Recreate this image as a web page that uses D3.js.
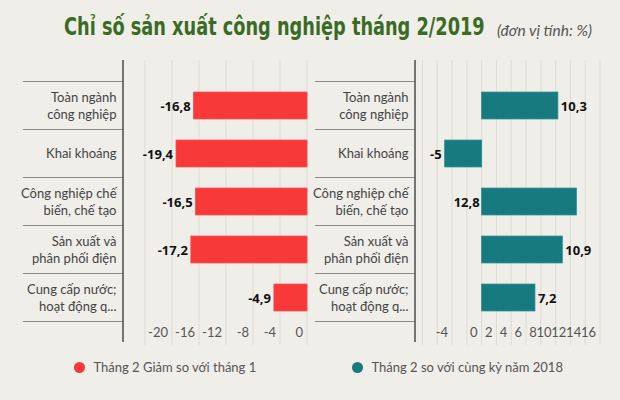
<!DOCTYPE html>
<html>
<head>
<meta charset="utf-8">
<script src="https://cdn.jsdelivr.net/npm/d3@7"></script>
<style>
  html, body { margin: 0; padding: 0; background: #f0eee9; }
  text { font-family: Lato, "Open Sans", sans-serif; }
</style>
</head>
<body>
<div id="chart"></div>
<script>
// Data
const categories = [
  ["Toàn ngành", "công nghiệp"],
  ["Khai khoáng"],
  ["Công nghiệp chế", "biến, chế tạo"],
  ["Sản xuất và", "phân phối điện"],
  ["Cung cấp nước;", "hoạt động q..."]
];
const valuesMonth = [-16.8, -19.4, -16.5, -17.2, -4.9];   // Tháng 2 so với tháng 1
const valuesYear = [10.3, -5, 12.8, 10.9, 7.2];          // so với cùng kỳ 2018
const leftGrid = [-24, -20, -16, -12, -8, -4, 0];
const leftTicks = [-20, -16, -12, -8, -4, 0];
const rightGrid = [-8, -6, -4, -2, 0, 2, 4, 6, 8, 10, 12, 14, 16];
const rightTicks = [-4, 0, 2, 4, 6, 8, 10, 12, 14, 16];
const legendLabels = ["Tháng 2 Giảm so với tháng 1", "Tháng 2 so với cùng kỳ năm 2018"];

const W = 620, H = 400;
const red = "#f8393a";
const teal = "#177a7f";

const svg = d3.select("#chart").append("svg")
  .attr("width", W)
  .attr("height", H);

svg.append("rect").attr("width", W).attr("height", H).attr("fill", "#f0eee9");

// Title: condensed look, squeezed horizontally with a transform
const titleG = svg.append("g");
const title = titleG.append("text")
  .attr("x", 0).attr("y", 0)
  .style("font-family", "'Liberation Sans Narrow', 'DejaVu Sans Condensed', sans-serif")
  .style("font-weight", "bold")
  .style("font-size", "25px")
  .attr("fill", "#3a6b24")
  .text("Chỉ số sản xuất công nghiệp tháng 2/2019");
const tLen = title.node().getComputedTextLength();
titleG.attr("transform", `translate(64,35) scale(${(421 / tLen).toFixed(4)},1)`);

const sub = svg.append("text")
  .attr("x", 497).attr("y", 36)
  .style("font-style", "italic")
  .style("font-size", "13px")
  .attr("fill", "#555")
  .text("(đơn vị tính: %)");
const sLen = sub.node().getComputedTextLength();
sub.style("font-size", (13 * 95 / sLen).toFixed(2) + "px");

// shared row scale
const idx = categories.map((d, i) => i);
const y = d3.scaleBand()
  .domain(idx)
  .range([81.5, 321.5])
  .paddingInner(0.44)
  .paddingOuter(0.22);

// one panel
function panel(opts) {
  const g = svg.append("g");
  const x = d3.scaleLinear().domain(opts.domain).range(opts.range);

  // gridlines
  g.selectAll(".grid").data(opts.grid).enter().append("line")
    .attr("x1", d => x(d)).attr("x2", d => x(d))
    .attr("y1", 60).attr("y2", 345)
    .attr("stroke", "#dedbd4").attr("stroke-width", 1);

  // row separators
  const seps = d3.range(categories.length + 1).map(i => y.range()[0] + i * y.step());
  g.selectAll(".sep").data(seps).enter().append("line")
    .attr("x1", opts.labelLeft).attr("x2", opts.axisX)
    .attr("y1", d => d).attr("y2", d => d)
    .attr("stroke", "#8a8a8a").attr("stroke-width", 1.2);

  // axis line
  g.append("line")
    .attr("x1", opts.axisX).attr("x2", opts.axisX)
    .attr("y1", 60).attr("y2", 342)
    .attr("stroke", "#555").attr("stroke-width", 1.6);

  // row labels
  categories.forEach((lines, i) => {
    const cy = y(i) + y.bandwidth() / 2;
    const t = g.append("text")
      .attr("text-anchor", "end")
      .style("font-size", "13px")
      .attr("fill", "#444");
    lines.forEach((ln, j) => {
      t.append("tspan")
        .attr("x", opts.labelRight)
        .attr("y", cy + 4.5 + (j - (lines.length - 1) / 2) * 17)
        .text(ln);
    });
  });

  // bars
  g.selectAll(".bar").data(opts.values).enter().append("rect")
    .attr("x", d => x(Math.min(0, d)))
    .attr("width", d => Math.abs(x(d) - x(0)))
    .attr("y", (d, i) => y(i))
    .attr("height", y.bandwidth())
    .attr("fill", opts.color)
    .attr("stroke", d3.color(opts.color).brighter(0.4))
    .attr("stroke-width", 0.8);

  // value labels
  const fmt = v => String(v).replace(".", ",");
  const noRoom = d => d > 0 && x(d) + 30 > opts.range[1]; // label goes left of 0
  g.selectAll(".val").data(opts.values).enter().append("text")
    .attr("x", d => d < 0 ? x(d) - 3 : noRoom(d) ? x(0) - 2 : x(d) + 3)
    .attr("text-anchor", d => (d < 0 || noRoom(d)) ? "end" : "start")
    .attr("y", (d, i) => y(i) + y.bandwidth() / 2 + 5)
    .style("font-family", "'Open Sans', sans-serif")
    .style("font-weight", "bold")
    .style("font-size", "13px")
    .attr("fill", "#111")
    .text(fmt);

  // tick labels
  g.selectAll(".tick").data(opts.ticks).enter().append("text")
    .attr("x", d => x(d) - 4)
    .attr("y", 337)
    .attr("text-anchor", "end")
    .style("font-size", "13px")
    .attr("fill", "#555")
    .text(d => d);

  // legend
  g.append("circle")
    .attr("cx", opts.legendX).attr("cy", 367.5).attr("r", 5.5)
    .attr("fill", opts.color);
  g.append("text")
    .attr("x", opts.legendX + 14).attr("y", 372)
    .style("font-size", "13px")
    .attr("fill", "#555")
    .text(opts.legend);
}

panel({
  domain: [-24, 0], range: [145, 307],
  grid: leftGrid, ticks: leftTicks, values: valuesMonth,
  color: red, axisX: 123, labelLeft: 23, labelRight: 116.5,
  legendX: 79.5, legend: legendLabels[0]
});

panel({
  domain: [-8, 16], range: [422.5, 600],
  grid: rightGrid, ticks: rightTicks, values: valuesYear,
  color: teal, axisX: 415, labelLeft: 315, labelRight: 408.5,
  legendX: 357.5, legend: legendLabels[1]
});
</script>
</body>
</html>
